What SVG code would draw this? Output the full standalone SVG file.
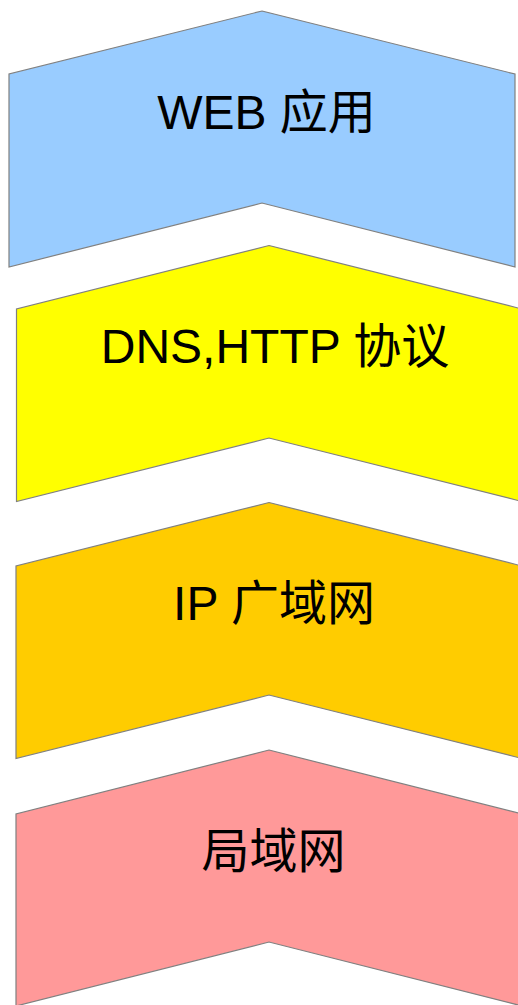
<svg xmlns="http://www.w3.org/2000/svg" width="518" height="1005" viewBox="0 0 518 1005">
<style>
.s{stroke:#808080;stroke-width:1.2;stroke-linejoin:miter}
.t{font-family:"Liberation Sans","Noto Sans CJK SC",sans-serif;font-size:48px;fill:#000;text-anchor:middle}
</style>
<rect width="518" height="1005" fill="#fff"/>
<g id="n1">
<polygon class="s" fill="#99CCFF" points="262,11 515,74 515,267 262,203 9,267 9,74"/>
<text class="t" x="266.5" y="128.5">WEB 应用</text>
</g>
<g id="n2">
<polygon class="s" fill="#FFFF00" points="269,245.5 522,309 522,501.5 269,438 16.5,501.5 16.5,309"/>
<text class="t" x="275" y="363">DNS,HTTP 协议</text>
</g>
<g id="n3">
<polygon class="s" fill="#FFCC00" points="269,502.5 522,566 522,758.5 269,695 16,758.5 16,566"/>
<text class="t" x="274" y="620">IP 广域网</text>
</g>
<g id="n4">
<polygon class="s" fill="#FF9999" points="269,750 522,814 522,1006 269,942 16,1006 16,814"/>
<text class="t" x="273.5" y="868">局域网</text>
</g>
<g id="connectors"></g>
</svg>
